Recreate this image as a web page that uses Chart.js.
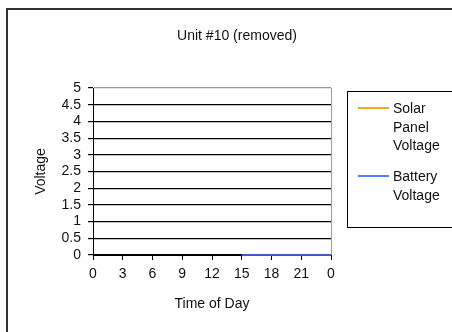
<!DOCTYPE html>
<html>
<head>
<meta charset="utf-8">
<script src="https://cdn.jsdelivr.net/npm/chart.js@4"></script>
<style>
  html, body { margin: 0; padding: 0; background: #fff; overflow: hidden; }
  #wrap { position: relative; width: 452px; height: 332px; }
  #frame { position: absolute; left: 6px; top: 8px; width: 470px; height: 350px; border: 2px solid #333; }
  #title { position: absolute; left: 0; top: 27px; width: 474px; text-align: center;
    font-family: "Liberation Sans", Arial, sans-serif; font-size: 14px; color: #111; }
  #legend { position: absolute; left: 347px; top: 91px; width: 130px; height: 135px; border: 1.5px solid #000;
    font-family: "Liberation Sans", Arial, sans-serif; font-size: 14px; color: #111; }
  .item { position: absolute; left: 10px; }
  .item .ln { position: absolute; left: 0; top: 8px; width: 31px; height: 2px; }
  .item .tx { position: absolute; left: 35px; top: 0; width: 52px; line-height: 18.5px; }
  canvas { position: absolute; left: 0; top: 0; }
</style>
</head>
<body>
<div id="wrap">
  <div id="frame"></div>
  <canvas id="chart" width="452" height="332"></canvas>
  <div id="title">Unit #10 (removed)</div>
  <div id="legend"></div>
</div>
<script>
// 데이터
const hours = [0, 3, 6, 9, 12, 15, 18, 21, 24]; // X축 (시간)
const solarVoltage = [null, null, null, null, null, null, null, null, null];
const batteryVoltage = [null, null, null, null, null, 0, 0, 0, 0];

const seriesNames = ["Solar Panel Voltage", "Battery Voltage"];
const seriesColors = ["#f5a623", "#4f7cff"];

const font = { family: "'Liberation Sans', Arial, sans-serif", size: 14 };

const data = {
  datasets: [
    {
      label: seriesNames[0],
      data: hours.map((h, i) => ({ x: h, y: solarVoltage[i] })),
      borderColor: seriesColors[0],
      borderWidth: 1.5,
      pointRadius: 0,
      clip: false,
    },
    {
      label: seriesNames[1],
      data: hours.map((h, i) => ({ x: h, y: batteryVoltage[i] })),
      borderColor: seriesColors[1],
      borderWidth: 1.5,
      pointRadius: 0,
      clip: false,
    },
  ],
};

const config = {
  type: "line",
  data: data,
  options: {
    responsive: false,
    animation: false,
    layout: { padding: { left: 20, right: 121, top: 88, bottom: 15 } },
    scales: {
      x: {
        type: "linear",
        min: 0,
        max: 24,
        afterBuildTicks: (s) => { s.ticks = hours.map((v) => ({ value: v })); },
        afterFit: (s) => { s.height = 62; },
        ticks: {
          color: "#111",
          font: font,
          padding: 6,
          maxRotation: 0,
          autoSkip: false,
          callback: (v) => String(v % 24),
        },
        grid: {
          color: (c) => (c.tick && c.tick.value === 24 ? "#999" : "rgba(0,0,0,0)"),
          tickColor: "#000",
          tickLength: 5,
        },
        border: { color: "#000", width: 1 },
        title: { display: true, text: "Time of Day", color: "#111", font: font, padding: { top: 0, bottom: 4 } },
      },
      y: {
        min: 0,
        max: 5,
        afterFit: (s) => { s.width = 73; },
        ticks: { color: "#111", font: font, padding: 7, stepSize: 0.5, autoSkip: false, callback: (v) => String(v) },
        grid: {
          color: (c) => (c.tick && c.tick.value === 5 ? "#999" : "#000"),
          tickColor: "#000",
          tickLength: 5,
          lineWidth: 1.2,
        },
        border: { color: "#000", width: 1 },
        title: { display: true, text: "Voltage", color: "#111", font: font, padding: { top: 13, bottom: 0 } },
      },
    },
    plugins: {
      legend: { display: false },
      tooltip: { enabled: false },
    },
  },
};

const ctx = document.getElementById("chart").getContext("2d");
const chart = new Chart(ctx, config);

// 범례 (HTML)
const legendTops = [7, 75];
const legend = document.getElementById("legend");
seriesNames.forEach((name, i) => {
  const item = document.createElement("div");
  item.className = "item";
  item.style.top = legendTops[i] + "px";
  const ln = document.createElement("div");
  ln.className = "ln";
  ln.style.background = seriesColors[i];
  const tx = document.createElement("div");
  tx.className = "tx";
  tx.textContent = name;
  item.appendChild(ln);
  item.appendChild(tx);
  legend.appendChild(item);
});
</script>
</body>
</html>
